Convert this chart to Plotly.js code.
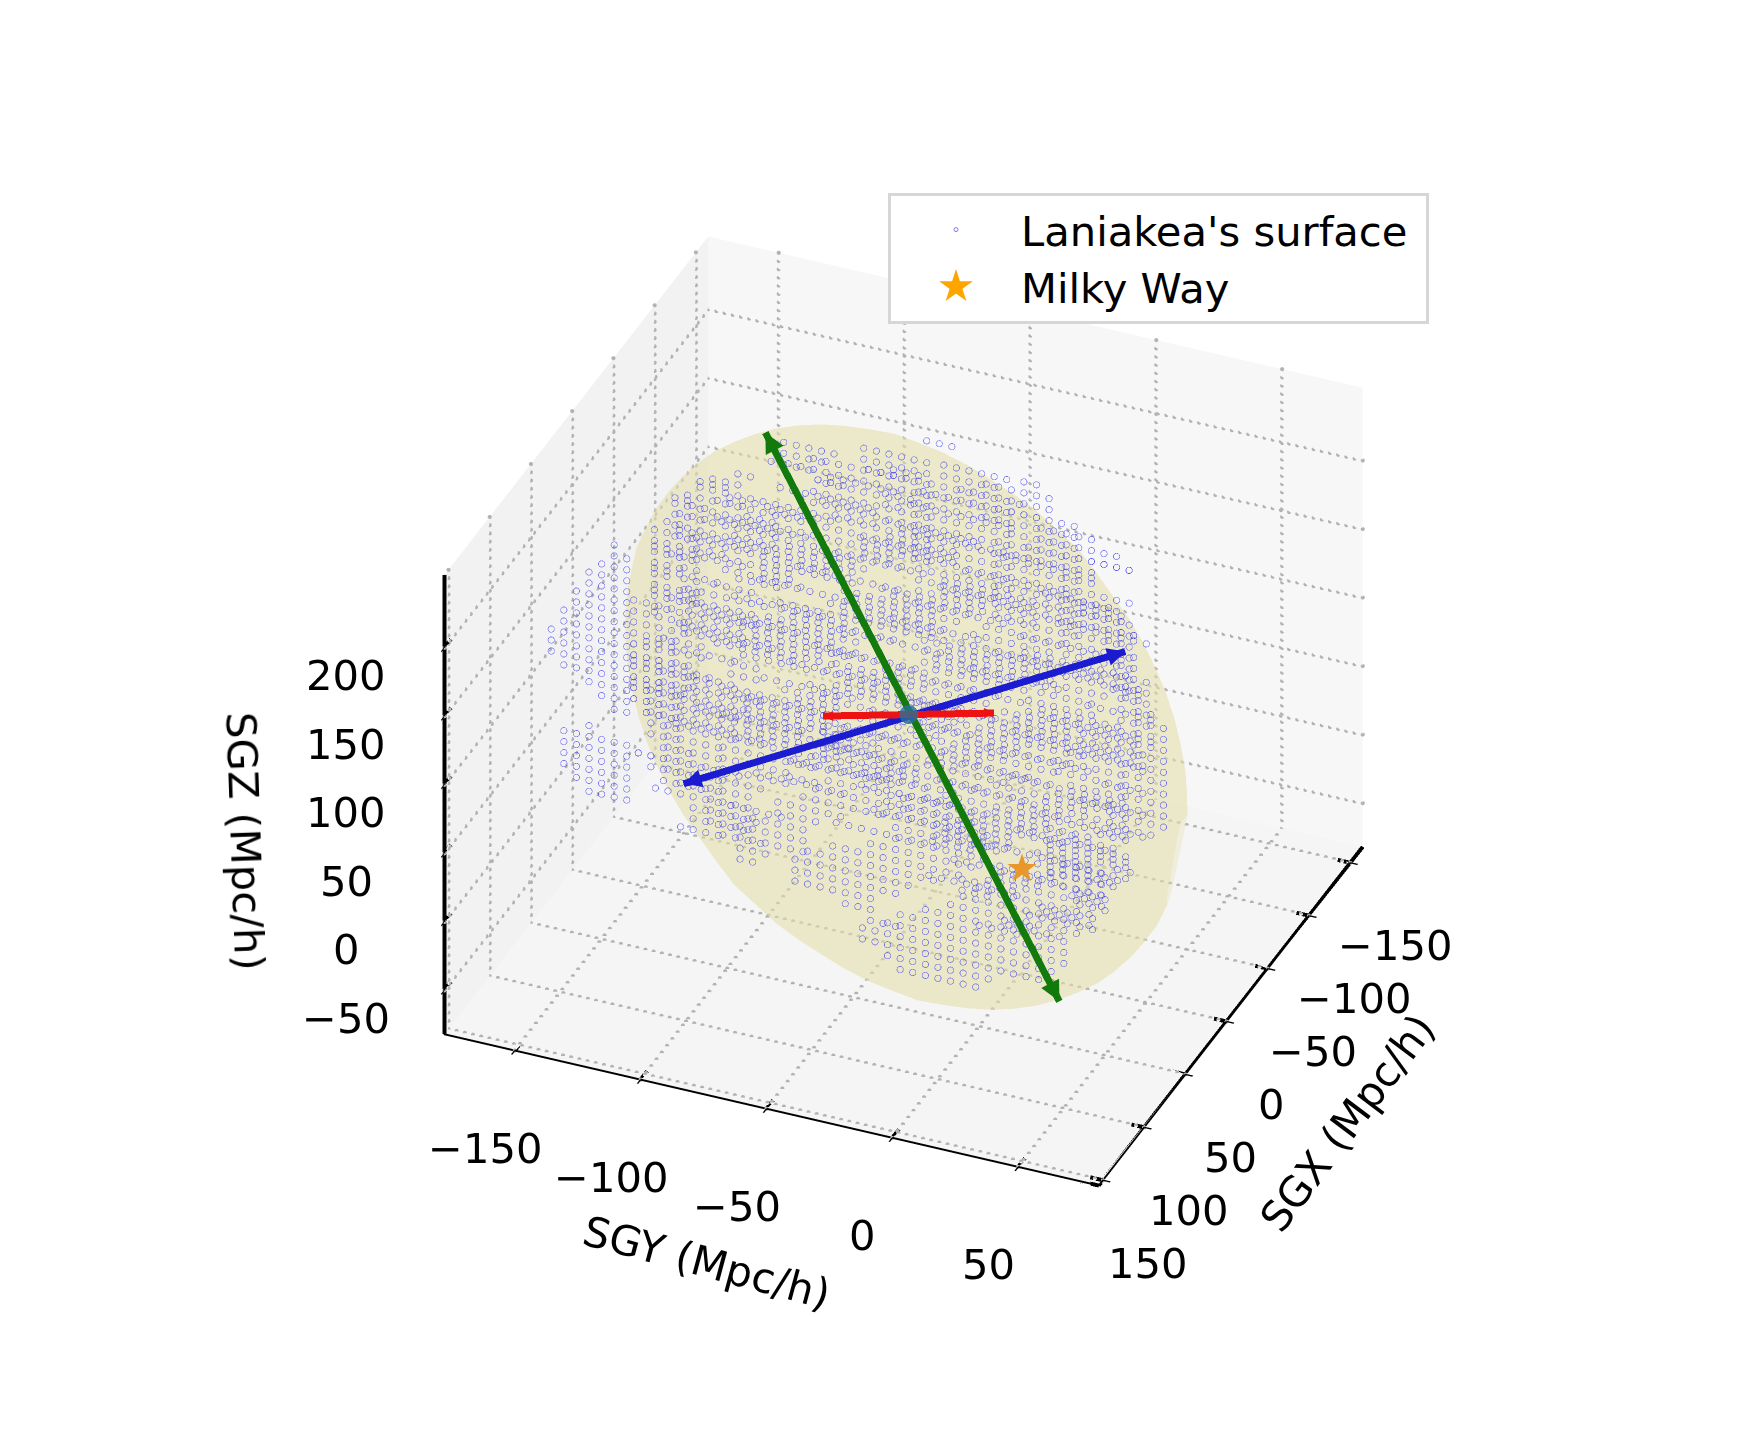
<!DOCTYPE html>
<html><head><meta charset="utf-8"><script src="https://cdn.plot.ly/plotly-3.0.1.min.js"></script></head>
<body style="margin:0;background:#fff"><div id="chart" style="width:1740px;height:1440px"></div>
<script>
const hullX=[86,84,79,72,62,51,37,23,7,-9,-24,-40,-54,-66,-77,-86,-92,-95,-96,-94,-89,-82,-72,-61,-47,-33,-17,-1,14,30,44,56,67,76,82,85,-41.5,31.5,35,-96,86,-45,-23,-38,28,13,82,52,-42,-81,-92,-62,32,71,89,6,-99,-16,85.3,82,75.9,67.4,56.8,44.3,30.2,15.1,-0.7,-16.5,-32.1,-46.8,-60.1,-71.8,-81.6,-88.9,-93.8,-95.9,-95.3,-92,-85.9,-77.4,-66.8,-54.3,-40.2,-25.1,-9.3,6.5,22.1,36.8,50.1,61.8,71.6,78.9,83.8,85.9];
const hullY=[42,57,68,76,80,80,76,69,58,44,27,9,-12,-34,-56,-77,-98,-117,-134,-149,-160,-168,-172,-172,-168,-161,-150,-136,-119,-101,-80,-58,-36,-15,6,25,-24,-68,30,-92,0,-122,32,-94,2,-124,74,76,-12,-76,-166,-168,-80,-16,41,44,-133,-136,49.7,62.7,72.2,78.1,80.2,78.6,73.1,64,51.5,36.1,18.2,-1.7,-22.8,-44.6,-66.5,-87.8,-107.9,-126.1,-141.7,-154.7,-164.2,-170.1,-172.2,-170.6,-165.1,-156,-143.5,-128.1,-110.2,-90.3,-69.2,-47.4,-25.5,-4.2,15.9,34.1];
const hullZ=[-9,8,27,48,69,92,114,135,155,172,187,199,207,211,212,209,201,191,177,160,141,120,99,76,54,33,13,-4,-19,-31,-39,-43,-44,-41,-33,-23,68,100,8,137,31,160,140,6,162,28,52,121,213,212,116,47,-45,-44,-8,180,176,-12,-0.8,17.1,37,58.4,80.5,102.8,124.4,144.9,163.5,179.7,193.1,203,209.4,211.9,210.6,205.4,196.5,184.2,168.8,150.9,131,109.6,87.5,65.2,43.6,23.1,4.5,-11.7,-25.1,-35,-41.4,-43.9,-42.6,-37.4,-28.5,-16.2];
const center=[-5,-46,84];
const greenEnds=[[96,47,-8],[-103,-135,176]];
const blueEnds=[[10,45,180],[-13,-138,-12]];
const redEnds=[[31.5,-68,101.5],[-41.5,-24,66]];
const milkyWay=[0,0,0];
const sgxLevels=[-125,-100,-75,-50,-25,0,25,50,75,100];
const sgyStart=-170, sgyCell=5;
const frontRows={232:"31:. 2:3",224:"28:. 6:3 5:4",216:"26:. 8:3 7:4",208:"23:. 10:3 9:4",200:"20:. 3:3 13:4 6:5",192:"17:. 3:2 2:3 6:4 15:5",184:"15:. 5:3 8:4 16:5",176:"13:. 3:2 4:3 3:4 13:5 9:6",168:"11:. 3:3 6:4 8:5 18:6",160:"9:. 3:3 8:4 8:5 11:6 7:7",152:"7:. 5:3 8:4 8:5 8:6 11:7",144:"5:. 3:2 4:3 3:4 6:5 8:6 19:7",136:"3:. 2:2 5:3 4:4 7:5 8:6 19:7",128:"2:. 3:2 3:3 4:4 8:5 7:6 11:7 10:8",120:"1:. 2:2 3:3 7:4 8:5 8:6 8:7 11:8",112:"4:2 2:3 6:4 8:5 2:6 13:7 13:8",104:"4:2 2:3 6:4 6:5 4:6 11:7 15:8",96:"4:2 2:3 5:4 3:5 7:6 9:7 14:8 4:9",88:"3:2 3:3 5:4 3:5 7:6 9:7 13:8 5:9",80:"4:3 4:4 4:5 7:6 9:7 11:8 9:9",72:"5:3 3:4 6:5 8:6 7:7 9:8 10:9",64:"5:3 2:4 6:5 8:6 8:7 8:8 10:9",56:"4:3 3:4 5:5 8:6 7:7 9:8 11:9",48:"4:3 3:4 5:5 6:6 6:7 11:8 11:9",40:"3:3 3:4 6:5 6:6 4:7 11:8 12:9",32:"3:3 3:4 5:5 5:6 5:7 10:8 14:9",24:"3:3 3:4 5:5 4:6 6:7 9:8 15:9",16:"3:3 3:4 5:5 4:6 6:7 7:8 16:9",8:"3:3 3:4 5:5 4:6 3:7 7:. 3:8 16:9",0:"1:. 3:3 3:4 4:5 4:6 2:7 10:. 3:8 9:9","-8":"2:. 3:4 7:5 4:6 15:. 7:9","-16":"3:. 5:4 6:5","-24":"4:. 4:4 5:5","-32":"7:. 4:5"};
const backRows={208:"23:. 6:2 7:3 6:4",200:"20:. 3:1 5:2 8:3 3:4 3:5",192:"17:. 13:2 6:3 3:4 4:5",184:"15:. 6:1 8:2 7:3 6:4 2:5",176:"13:. 2:2 6:1 8:2 7:3 5:4 2:5 2:6",168:"11:. 10:1 8:2 7:3 6:4 2:5 2:6",160:"9:. 12:1 8:2 7:3 6:4 2:5 2:6",152:"7:. 5:0 9:1 8:2 7:3 6:4 3:5 2:6",144:"5:. 2:1 4:0 10:1 8:2 7:3 6:4 3:5 3:6",136:"3:. 3:1 4:0 11:1 8:2 7:3 6:4 3:5 3:6",128:"2:. 19:1 8:2 7:3 6:4 3:5 3:6",120:"1:. 20:1 7:2 7:3 7:4 3:5 3:6",112:"21:1 6:2 7:3 6:4 4:5 4:6",104:"19:1 7:2 8:3 5:4 5:5 4:6",96:"16:1 9:2 8:3 6:4 5:5 4:6",88:"14:1 10:2 9:3 5:4 6:5 4:6",80:"2:2 8:1 14:2 8:3 5:4 6:5 5:6",72:"4:2 7:1 9:2 10:3 7:4 6:5 5:6",64:"17:2 12:3 9:4 5:5 4:6",56:"17:2 11:3 9:4 5:5 3:6 2:7",48:"2:3 12:2 13:3 9:4 4:5 4:6 2:7",40:"5:3 7:2 14:3 8:4 4:5 7:6",32:"25:3 7:4 5:5 5:6 3:7",24:"22:3 8:4 6:5 6:6 3:7",16:"20:3 8:4 6:5 5:6 5:7",8:"18:3 7:. 3:4 6:5 4:6 6:7",0:"1:. 13:3 3:4 10:. 4:5 5:6 3:7","-8":"2:. 9:4 5:5 15:. 3:6 4:7"};
const midRows={196:"19:. 3:2 9:3 8:4 4:5",180:"14:. 6:2 8:3 9:4 8:5",164:"10:. 8:2 8:3 8:4 9:5 3:6",148:"6:. 9:2 9:3 8:4 9:5 6:6",132:"2:. 3:1 8:2 9:3 8:4 8:5 9:6 1:7",116:"2:1 8:2 8:3 9:4 8:5 9:6 4:7",100:"8:2 8:3 9:4 8:5 9:6 6:7",84:"6:2 8:3 8:4 9:5 8:6 9:7",68:"4:2 8:3 8:4 9:5 8:6 8:7 2:8",52:"1:2 8:3 9:4 8:5 8:6 9:7 3:8",36:"7:3 9:4 8:5 8:6 9:7 3:8",20:"5:3 8:4 8:5 9:6 8:7 5:8"};
const blobRows={208:"5:. 1:7",200:"5:. 2:7",192:"4:. 3:7",184:"3:. 4:7",176:"3:. 4:7",168:"2:. 5:7",160:"2:. 5:7",152:"1:. 6:7",144:"1:. 6:7",136:"7:7",128:"7:7",120:"7:7",112:"1:. 6:7",104:"3:. 4:7",96:"4:. 3:7",88:"5:. 2:7",72:"3:. 1:7",64:"1:. 6:7",56:"1:. 6:7",48:"1:. 6:7",40:"1:. 6:7",32:"2:. 5:7",24:"3:. 4:7"};
const denseRows={84:"20:. 3:6",76:"20:. 5:6",68:"20:. 7:6",60:"21:. 8:6",52:"23:. 8:6 7:. 4:6",44:"25:. 8:6 5:. 7:6",36:"27:. 7:6 4:. 7:6",28:"29:. 5:6 4:. 7:6",20:"38:. 6:6",12:"39:. 4:6"};
const sx=[],sy=[],sz=[];
function addRows(t){for(const k of Object.keys(t)){let j=0;for(const run of t[k].split(' ')){const [n,c]=run.split(':');for(let i=0;i<+n;i++,j++){if(c!=='.'){sx.push(sgxLevels[+c]);sy.push(sgyStart+sgyCell*j);sz.push(+k);}}}}}
addRows(frontRows);addRows(backRows);addRows(midRows);addRows(blobRows);addRows(denseRows);
const xLim=[-165,155],yLim=[-178,82],zLim=[-82,253];
const xT=[-150,-100,-50,0,50,100,150],yT=[-150,-100,-50,0,50],zT=[-50,0,50,100,150,200];
const F='"DejaVu Sans"',FS=41.67;
const data=[];
// the WebGL scene has no dotted gridline style, so the dotted grid of the panes is drawn as small dots along each tick line
const gx=[],gy=[],gz=[];
const L=(a,b,n)=>{for(let i=0;i<=n;i++){const t=i/n;gx.push(a[0]+(b[0]-a[0])*t);gy.push(a[1]+(b[1]-a[1])*t);gz.push(a[2]+(b[2]-a[2])*t);}};
xT.forEach(v=>{L([v,yLim[0],zLim[0]],[v,yLim[1],zLim[0]],80);L([v,yLim[0],zLim[0]],[v,yLim[0],zLim[1]],56);});
yT.forEach(v=>{L([xLim[0],v,zLim[0]],[xLim[1],v,zLim[0]],50);L([xLim[0],v,zLim[0]],[xLim[0],v,zLim[1]],56);});
zT.forEach(v=>{L([xLim[0],yLim[0],v],[xLim[1],yLim[0],v],50);L([xLim[0],yLim[0],v],[xLim[0],yLim[1],v],80);});
data.push({type:'scatter3d',mode:'markers',x:gx,y:gy,z:gz,marker:{size:2.4,color:'#b2b2b2',line:{width:0}},showlegend:false,hoverinfo:'skip'});
data.push({type:'mesh3d',x:hullX.map(v=>1.03*v+2.85),y:hullY.map(v=>1.03*v+1.4),z:hullZ.map(v=>1.03*v-2.5),alphahull:0,color:'#e4deab',opacity:0.35,flatshading:true,lighting:{ambient:1,diffuse:0,specular:0,fresnel:0},hoverinfo:'skip',showlegend:false,showscale:false});
const ax_=[],ay_=[],az_=[];
const K=(a,b)=>{ax_.push(a[0],b[0],null);ay_.push(a[1],b[1],null);az_.push(a[2],b[2],null);};
K([xLim[1],yLim[0],zLim[0]],[xLim[1],yLim[1],zLim[0]]);K([xLim[1],yLim[1],zLim[0]],[xLim[0],yLim[1],zLim[0]]);K([xLim[1],yLim[0],zLim[0]],[xLim[1],yLim[0],zLim[1]]);
xT.forEach(v=>K([v,yLim[1]-5,zLim[0]],[v,yLim[1]+5,zLim[0]]));
yT.forEach(v=>K([xLim[1]-8,v,zLim[0]],[xLim[1]+8,v,zLim[0]]));
zT.forEach(v=>K([xLim[1]-8,yLim[0],v],[xLim[1]+8,yLim[0],v]));
data.push({type:'scatter3d',mode:'lines',opacity:0.99,x:ax_,y:ay_,z:az_,connectgaps:false,line:{color:'#000',width:8},showlegend:false,hoverinfo:'skip'});
data.push({type:'scatter3d',mode:'markers',opacity:0.7,x:sx,y:sy,z:sz,marker:{symbol:'circle-open',size:4,color:'#4444ee'},name:"Laniakea's surface\u00a0"});
function seg(e,c){data.push({type:'scatter3d',mode:'lines',opacity:0.99,x:[e[0][0],e[1][0]],y:[e[0][1],e[1][1]],z:[e[0][2],e[1][2]],line:{color:c,width:14},showlegend:false});}
seg(greenEnds,'#117a0b');seg(blueEnds,'#1a1ad0');seg(redEnds,'#ee1111');
data.push({type:'scatter3d',mode:'markers',opacity:0.8,x:[center[0]],y:[center[1]],z:[center[2]],marker:{size:11,color:'#2a6f96'},showlegend:false});
data.push({type:'scatter',x:[5],y:[5],xaxis:'x',yaxis:'y',mode:'markers',marker:{symbol:'star',size:32,color:'orange',line:{color:'orange',width:4}},name:'Milky Way'});
function ax(range,ticks,bg){return {title:{text:''},range:range,tickvals:ticks,showticklabels:false,showbackground:true,backgroundcolor:bg,showgrid:false,showline:true,linecolor:'#000',linewidth:4,ticks:'outside',ticklen:8,tickcolor:'#000',tickwidth:3,zeroline:false,showspikes:false};}
const lab=v=>v<0?'\u2212'+(-v):''+v;
const tf={family:F,size:FS,color:'#000'};
const ann=[];
const A=(x,y,z,t,sx_,sy_,ang)=>ann.push({x,y,z,text:t,showarrow:false,xanchor:'center',yanchor:'middle',xshift:sx_,yshift:sy_,textangle:ang||0,font:tf});
xT.forEach(v=>A(v,82,-82,lab(v),45,-83));
yT.forEach(v=>A(155,v,-82,lab(v),-30,-98));
zT.forEach(v=>A(155,-178,v,lab(v),-98,-28));
A(0,82,-82,'SGX (Mpc/h)',121,-101,-53);
A(155,-50,-82,'SGY (Mpc/h)',-60,-154,15);
A(155,-178,85,'SGZ (Mpc/h)',-199,-36,88);
ann.push({x:milkyWay[0],y:milkyWay[1],z:milkyWay[2],text:'\u2605',showarrow:false,xanchor:'center',yanchor:'middle',xshift:2,yshift:-7,font:{family:F,size:38,color:'#e8982a'}});
const H=(p,axx,ayy,c,w,s)=>ann.push({x:p[0],y:p[1],z:p[2],text:' ',showarrow:true,arrowhead:2,arrowsize:s,arrowwidth:w,arrowcolor:c,ax:axx,ay:ayy});
H(greenEnds[0],-14,-27,'#117a0b',6,0.67);H(greenEnds[1],14,27,'#117a0b',6,0.67);
H(blueEnds[0],-29,9,'#1a1ad0',6,0.6);H(blueEnds[1],29,-9,'#1a1ad0',6,0.6);
H(redEnds[0],10,0,'#ee1111',5,0.4);H(redEnds[1],-10,0,'#ee1111',5,0.4);
const th=23*Math.PI/180,ph=33*Math.PI/180,d=2;
const layout={width:1740,height:1440,margin:{l:0,r:0,t:0,b:0},paper_bgcolor:'#fff',
xaxis:{visible:false,range:[0,1],domain:[0,0.01]},yaxis:{visible:false,range:[0,1],domain:[0,0.01]},
scene:{domain:{x:[0.0386,1],y:[0.0125,1]},aspectmode:'manual',aspectratio:{x:0.95,y:1,z:0.77},
camera:{projection:{type:'orthographic'},up:{x:0,y:0,z:1},center:{x:0,y:0,z:0},eye:{x:d*Math.cos(ph)*Math.cos(th),y:d*Math.cos(ph)*Math.sin(th),z:d*Math.sin(ph)}},
xaxis:ax(xLim,xT,'#f7f7f7'),yaxis:ax(yLim,yT,'#f2f2f2'),zaxis:ax(zLim,zT,'#f5f5f5'),annotations:ann},
showlegend:true,legend:{x:888/1740,y:1-193/1440,xanchor:'left',yanchor:'top',bgcolor:'#fff',bordercolor:'#d6d6d6',borderwidth:3,itemwidth:120,font:tf}};
Plotly.newPlot('chart',data,layout,{displayModeBar:false});
</script></body></html>
